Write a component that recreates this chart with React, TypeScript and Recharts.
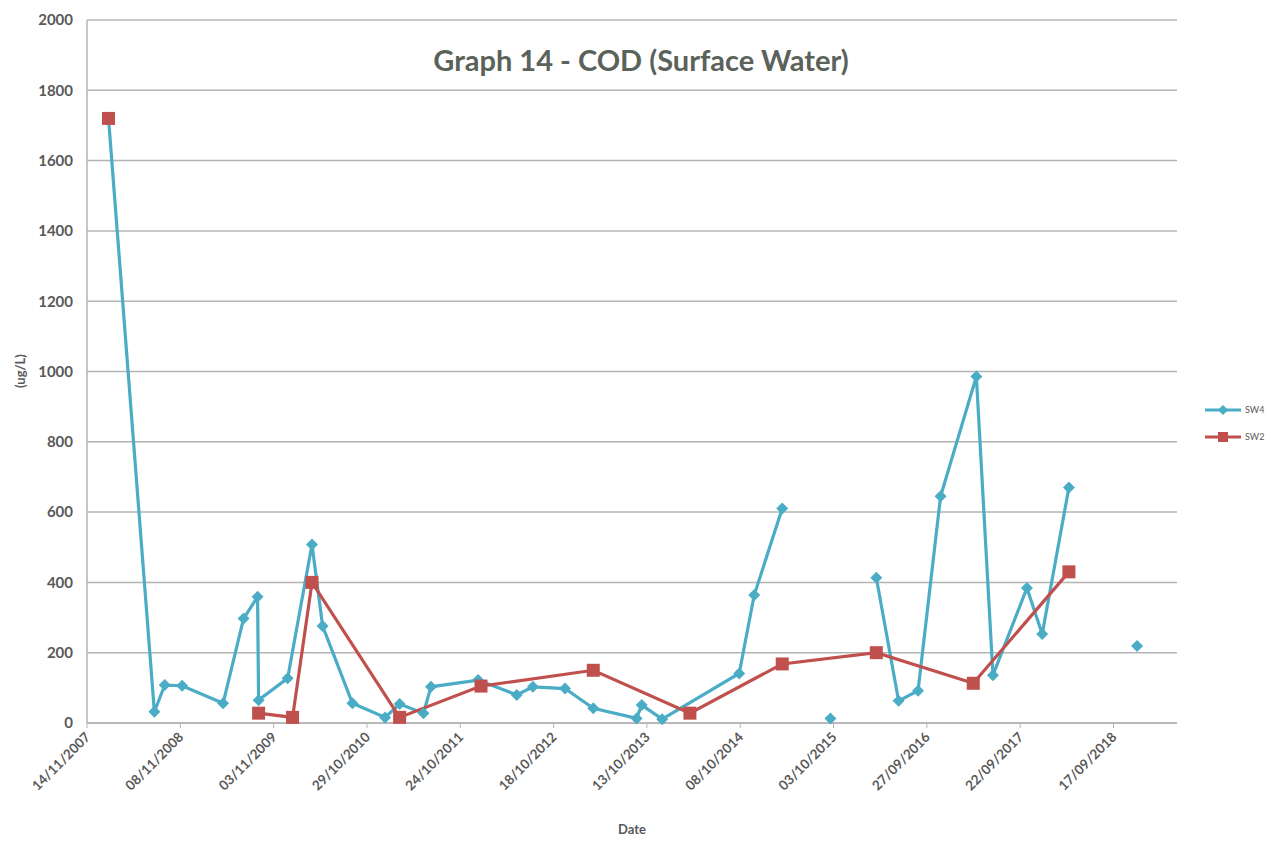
import React from "react";
import { LineChart, Line, XAxis, YAxis, CartesianGrid } from "recharts";

// SW4 sampling results (null marks a break in the line)
const sw4Dates = [
  "2008-02-05", "2008-07-31", "2008-09-09", "2008-11-15", "2009-04-22",
  "2009-07-10", "2009-09-02", "2009-09-06", "2009-12-27", "2010-03-31",
  "2010-05-11", "2010-09-03", "2011-01-07", "2011-03-04", "2011-06-04",
  "2011-07-03", "2012-01-01", "2012-05-29", "2012-07-30", "2012-12-01",
  "2013-03-20", "2013-09-03", "2013-09-23", "2013-12-11", "2014-10-04",
  "2014-12-01", "2015-03-19", "2015-06-15", "2015-09-21", "2015-12-15",
  "2016-03-16", "2016-06-10", "2016-08-24", "2016-11-19", "2017-04-06",
  "2017-06-09", "2017-10-18", "2017-12-16", "2018-03-29", "2018-08-01",
  "2018-12-17",
];
const sw4Values: (number | null)[] = [
  1720, 32, 108, 106, 56,
  297, 359, 65, 127, 508,
  276, 56, 16, 54, 28,
  103, 122, 80, 103, 98,
  42, 13, 51, 11, 141,
  364, 610, null, 13, null,
  413, 63, 92, 645, 986,
  136, 384, 253, 670, null,
  219,
];

// SW2 sampling results
const sw2Dates = [
  "2008-02-05", "2008-07-31", "2009-09-06", "2010-01-15", "2010-03-31",
  "2011-03-04", "2012-01-12", "2013-03-20", "2014-03-28", "2015-03-19",
  "2016-03-16", "2017-03-25", "2018-03-29",
];
const sw2Values: (number | null)[] = [
  1720, null, 28, 16, 400,
  16, 105, 150, 28, 168,
  200, 113, 430,
];

const xTickLabels = [
  "14/11/2007", "08/11/2008", "03/11/2009", "29/10/2010", "24/10/2011",
  "18/10/2012", "13/10/2013", "08/10/2014", "03/10/2015", "27/09/2016",
  "22/09/2017", "17/09/2018",
];
const yTicks = [0, 200, 400, 600, 800, 1000, 1200, 1400, 1600, 1800, 2000];

const axisStart = "2007-11-14";
const axisEnd = "2019-05-20";

const toTime = (iso: string) => {
  const [y, m, d] = iso.split("-").map(Number);
  return Date.UTC(y, m - 1, d);
};
const fromLabel = (s: string) => {
  const [d, m, y] = s.split("/").map(Number);
  return Date.UTC(y, m - 1, d);
};
const fmt = (t: number) => {
  const dt = new Date(t);
  const dd = String(dt.getUTCDate()).padStart(2, "0");
  const mm = String(dt.getUTCMonth() + 1).padStart(2, "0");
  return `${dd}/${mm}/${dt.getUTCFullYear()}`;
};

const sw4Data = sw4Dates.map((d, i) => ({ t: toTime(d), value: sw4Values[i] }));
const sw2Data = sw2Dates.map((d, i) => ({ t: toTime(d), value: sw2Values[i] }));
const xTicks = xTickLabels.map(fromLabel);

const BLUE = "#4BACC6";
const RED = "#C0504D";
const TEXT = "#595959";
const GRID = "#b4b4b4";

const renderDiamond = (props: any) => {
  const { cx, cy, index, payload } = props;
  if (cx == null || cy == null || payload?.value == null) return <g key={`d${index}`} />;
  const r = 6;
  return (
    <path
      key={`d${index}`}
      d={`M${cx},${cy - r} L${cx + r},${cy} L${cx},${cy + r} L${cx - r},${cy} Z`}
      fill={BLUE}
    />
  );
};

const renderSquare = (props: any) => {
  const { cx, cy, index, payload } = props;
  if (cx == null || cy == null || payload?.value == null) return <g key={`s${index}`} />;
  const h = 6.5;
  return <rect key={`s${index}`} x={cx - h} y={cy - h} width={h * 2} height={h * 2} fill={RED} />;
};

const XTick = (props: any) => {
  const { x, y, payload } = props;
  return (
    <text
      x={x + 4}
      y={y + 8}
      transform={`rotate(-45, ${x + 4}, ${y + 8})`}
      textAnchor="end"
      fill={TEXT}
      fontSize={13.5}
      fontWeight="bold"
      fontFamily="Lato, sans-serif"
    >
      {fmt(payload.value)}
    </text>
  );
};

const LegendItem = ({ color, label, square }: { color: string; label: string; square?: boolean }) => (
  <div style={{ display: "flex", alignItems: "center", height: 27 }}>
    <svg width={40} height={14}>
      <line x1={2} y1={7} x2={38} y2={7} stroke={color} strokeWidth={3} />
      {square ? (
        <rect x={15} y={2} width={10} height={10} fill={color} />
      ) : (
        <path d="M20,2 L25,7 L20,12 L15,7 Z" fill={color} />
      )}
    </svg>
    <span style={{ fontSize: 9, color: TEXT, marginLeft: 2 }}>{label}</span>
  </div>
);

export default function App() {
  return (
    <div
      style={{
        position: "absolute",
        left: 0,
        top: 0,
        width: 1277,
        height: 860,
        background: "#fff",
        fontFamily: "Lato, sans-serif",
      }}
    >
      <LineChart width={1277} height={860} margin={{ top: 20, right: 100, bottom: 37, left: 12 }}>
        <CartesianGrid vertical={false} stroke={GRID} strokeWidth={1.5} />
        <XAxis
          type="number"
          dataKey="t"
          domain={[toTime(axisStart), toTime(axisEnd)]}
          ticks={xTicks}
          allowDataOverflow
          height={100}
          axisLine={{ stroke: GRID, strokeWidth: 1.5 }}
          tickLine={{ stroke: GRID }}
          tickSize={5}
          tick={<XTick />}
          interval={0}
        />
        <YAxis
          type="number"
          domain={[0, 2000]}
          ticks={yTicks}
          width={75}
          axisLine={{ stroke: GRID, strokeWidth: 1.5 }}
          tickLine={false}
          tickMargin={8}
          tick={{ fill: TEXT, fontSize: 15, fontWeight: "bold", fontFamily: "Lato, sans-serif" }}
        />
        <Line
          data={sw4Data}
          dataKey="value"
          name="SW4"
          stroke={BLUE}
          strokeWidth={3.2}
          dot={renderDiamond}
          activeDot={false}
          connectNulls={false}
          isAnimationActive={false}
        />
        <Line
          data={sw2Data}
          dataKey="value"
          name="SW2"
          stroke={RED}
          strokeWidth={3.2}
          dot={renderSquare}
          activeDot={false}
          connectNulls={false}
          isAnimationActive={false}
        />
      </LineChart>

      <div
        style={{
          position: "absolute",
          left: 0,
          width: 1282,
          top: 42,
          textAlign: "center",
          fontSize: 29,
          fontWeight: "bold",
          color: "#5a625a",
        }}
      >
        Graph 14 - COD (Surface Water)
      </div>

      <div
        style={{
          position: "absolute",
          left: 20,
          top: 371,
          transform: "translate(-50%, -50%) rotate(-90deg)",
          fontSize: 13,
          fontWeight: "bold",
          color: TEXT,
          whiteSpace: "nowrap",
        }}
      >
        (ug/L)
      </div>

      <div
        style={{
          position: "absolute",
          left: 632,
          top: 829,
          transform: "translate(-50%, -50%)",
          fontSize: 13,
          fontWeight: "bold",
          color: TEXT,
        }}
      >
        Date
      </div>

      <div style={{ position: "absolute", left: 1203, top: 396 }}>
        <LegendItem color={BLUE} label="SW4" />
        <LegendItem color={RED} label="SW2" square />
      </div>
    </div>
  );
}
